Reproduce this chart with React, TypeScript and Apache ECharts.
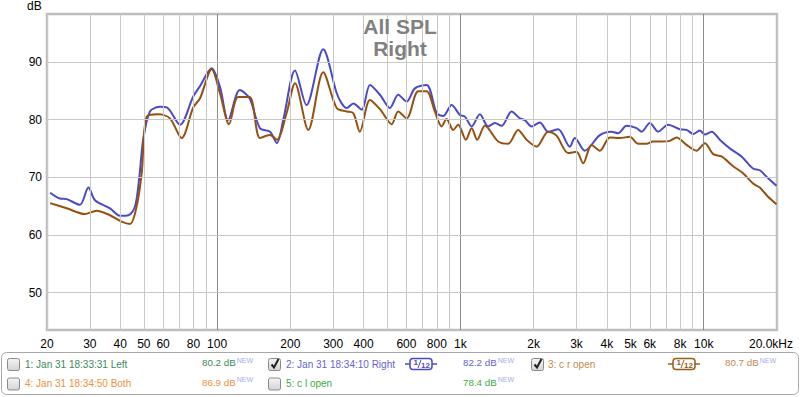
import React, { useEffect, useRef } from 'react';
import * as echarts from 'echarts';

// ---- data ----
const blueFreq = [20.6, 22.6, 24.1, 27.3, 29.6, 31.5, 36.3, 39.9, 43.2, 46.0, 47.9, 49.7, 53.0, 58.3, 62.1, 70.4, 79.8, 85.1, 95, 102.7, 111, 124, 136, 150, 165, 176, 187, 209, 233, 273, 310, 325, 341, 363, 393, 425, 467, 513, 555, 601, 650, 726, 799, 850, 920, 995, 1044, 1112, 1202, 1301, 1386, 1476, 1623, 1756, 1841, 1961, 2120, 2294, 2522, 2817, 2952, 3246, 3741, 4178, 4448, 4816, 5296, 5552, 6006, 6494, 7138, 7974, 8498, 9046, 9636, 10104, 10766, 11641, 12800, 14296, 15951, 16996, 18382, 19904];
const blueDb = [67.3, 66.3, 66.2, 65.2, 68.2, 66.0, 64.6, 63.3, 63.4, 64.9, 70.0, 76.5, 81.4, 82.2, 82.1, 79.1, 84.0, 85.8, 88.9, 85.7, 79.9, 85.1, 83.7, 78.5, 77.9, 75.9, 79.9, 88.5, 82.5, 92.2, 84.6, 82.8, 82.0, 82.8, 81.7, 86.0, 84.3, 82.0, 84.3, 83.1, 85.4, 86.0, 81.1, 80.6, 82.5, 80.8, 80.5, 78.8, 80.9, 78.8, 79.4, 78.9, 81.4, 80.2, 79.9, 78.8, 79.5, 77.9, 78.3, 75.3, 76.8, 74.6, 77.3, 77.9, 77.6, 78.9, 78.5, 77.9, 79.4, 77.9, 79.1, 78.3, 78.2, 77.5, 78.1, 77.4, 77.9, 76.5, 75.0, 73.6, 71.5, 71.2, 69.8, 68.5];

const brownFreq = [20.6, 24.1, 28.6, 32.0, 36.3, 40.5, 43.9, 46.7, 49.0, 51.4, 57.3, 64.0, 71.5, 79.8, 85.1, 95, 102.7, 112, 122, 136, 150, 165, 176, 193, 209, 237, 273, 310, 341, 363, 386, 425, 467, 522, 555, 601, 671, 726, 785, 837, 877, 934, 979, 1053, 1112, 1172, 1261, 1430, 1571, 1727, 1870, 2055, 2294, 2483, 2772, 3002, 3195, 3458, 3741, 4112, 4520, 4970, 5376, 5820, 6194, 6706, 7252, 7730, 8498, 9340, 10104, 10932, 11832, 13204, 14510, 15951, 16996, 18382, 19904];
const brownDb = [65.5, 64.6, 63.6, 64.2, 63.4, 62.3, 61.9, 64.9, 70.7, 80.5, 80.9, 80.2, 76.8, 82.1, 83.7, 88.7, 84.6, 79.2, 83.9, 83.9, 76.8, 77.3, 76.5, 81.1, 86.3, 78.2, 88.2, 82.0, 81.4, 81.1, 77.9, 83.4, 81.8, 79.2, 81.4, 80.2, 84.9, 84.9, 81.4, 78.8, 80.1, 78.2, 79.1, 76.5, 78.5, 76.5, 78.9, 76.2, 75.8, 78.2, 76.5, 75.3, 77.9, 77.2, 74.2, 74.4, 72.4, 75.6, 74.6, 76.9, 76.8, 77.0, 75.8, 75.8, 76.2, 76.2, 76.3, 76.9, 75.6, 74.6, 75.9, 74.0, 73.6, 71.9, 70.7, 68.9, 68.2, 66.6, 65.3];

const xGridFreqs = [20, 30, 40, 50, 60, 70, 80, 90, 100, 200, 300, 400, 500, 600, 700, 800, 900, 1000, 2000, 3000, 4000, 5000, 6000, 7000, 8000, 9000, 10000, 20000];
const xMajorFreqs = [100, 1000, 10000];
const xLabelFreqs = [20, 30, 40, 50, 60, 80, 100, 200, 300, 400, 600, 800, 1000, 2000, 3000, 4000, 5000, 6000, 8000, 10000, 20000];
const xLabelTexts = ['20', '30', '40', '50', '60', '80', '100', '200', '300', '400', '600', '800', '1k', '2k', '3k', '4k', '5k', '6k', '8k', '10k', '20.0kHz'];
const yTicks = [50, 60, 70, 80, 90];

const titleLines = ['All SPL', 'Right'];

const legendRows = [
  [
    { checked: false, name: '1: Jan 31 18:33:31 Left', value: '80.2 dB', color: '#3a8a5a', icon: false },
    { checked: true, name: '2: Jan 31 18:34:10 Right', value: '82.2 dB', color: '#6464d0', icon: true },
    { checked: true, name: '3: c r open', value: '80.7 dB', color: '#c4884c', icon: true },
  ],
  [
    { checked: false, name: '4: Jan 31 18:34:50 Both', value: '86.9 dB', color: '#ee9040', icon: false },
    { checked: false, name: '5: c l open', value: '78.4 dB', color: '#3cab3c', icon: false },
  ],
];

const FONT = '"Liberation Sans", Arial, sans-serif';

function buildLegend(): any[] {
  const els: any[] = [];
  els.push({
    type: 'rect', shape: { x: 1.5, y: 352.5, width: 797, height: 42, r: 5 },
    style: { fill: '#ffffff', stroke: '#a8a8a8', lineWidth: 1 }, z: 10,
  });
  const colX = [{ cb: 7, name: 25, val: 202 }, { cb: 268, name: 286, val: 463 }, { cb: 531, name: 548, val: 725 }];
  const iconX = [0, 405, 668];
  const rowY = [364, 383.5];
  legendRows.forEach((row, ri) => {
    row.forEach((it, ci) => {
      const y = rowY[ri];
      const cx = colX[ci];
      els.push({
        type: 'rect', shape: { x: cx.cb + 0.5, y: y - 5.5, width: 12, height: 12, r: 2 },
        style: {
          fill: new echarts.graphic.LinearGradient(0, 0, 0, 1, [{ offset: 0, color: '#f4f4f4' }, { offset: 1, color: '#d4d4d4' }]),
          stroke: '#8a8a8a', lineWidth: 1,
        }, z: 11,
      });
      if (it.checked) {
        els.push({
          type: 'polyline', shape: { points: [[cx.cb + 3.5, y + 0.5], [cx.cb + 6, y + 3.5], [cx.cb + 10.5, y - 5]] },
          style: { stroke: '#222', lineWidth: 2, fill: null }, z: 12,
        });
      }
      els.push({ type: 'text', x: cx.name, y, style: { text: it.name, fill: it.color, font: '10px ' + FONT, verticalAlign: 'middle' }, z: 12 });
      els.push({
        type: 'text', x: cx.val, y: y - 1.5,
        style: {
          text: '{v|' + it.value + '}{n|NEW}', verticalAlign: 'middle',
          rich: {
            v: { fill: it.color, fontSize: 9.8, fontFamily: FONT, lineHeight: 12, verticalAlign: 'middle' },
            n: { fill: '#a8acf0', fontSize: 7, fontFamily: FONT, lineHeight: 12, verticalAlign: 'top', padding: [0, 0, 0, 1] },
          },
        }, z: 12,
      });
      if (it.icon) {
        const ix = iconX[ci];
        const c = it.color === '#6464d0' ? '#4a4ac8' : '#9a5a1a';
        els.push({ type: 'line', shape: { x1: ix, y1: y, x2: ix + 5, y2: y }, style: { stroke: c, lineWidth: 1.5 }, z: 12 });
        els.push({ type: 'line', shape: { x1: ix + 27, y1: y, x2: ix + 32, y2: y }, style: { stroke: c, lineWidth: 1.5 }, z: 12 });
        els.push({ type: 'rect', shape: { x: ix + 5, y: y - 5.5, width: 22, height: 11, r: 3 }, style: { fill: '#fff', stroke: c, lineWidth: 1.5 }, z: 12 });
        els.push({ type: 'text', x: ix + 8.5, y: y - 2, style: { text: '1', fill: c, font: 'bold 8px ' + FONT, verticalAlign: 'middle' }, z: 13 });
        els.push({ type: 'line', shape: { x1: ix + 13, y1: y + 4, x2: ix + 16, y2: y - 4 }, style: { stroke: c, lineWidth: 1 }, z: 13 });
        els.push({ type: 'text', x: ix + 16, y: y + 1, style: { text: '12', fill: c, font: 'bold 8px ' + FONT, verticalAlign: 'middle' }, z: 13 });
      }
    });
  });
  return els;
}

export default function App() {
  const ref = useRef<HTMLDivElement>(null);
  useEffect(() => {
    if (!ref.current) return;
    const chart = echarts.init(ref.current, undefined, { renderer: 'svg' });

    const xMarks = xGridFreqs.map((f) => {
      const li = xLabelFreqs.indexOf(f);
      const major = xMajorFreqs.indexOf(f) >= 0;
      return {
        xAxis: f,
        lineStyle: { color: major ? '#8c8c8c' : '#c8c8c8', width: 1, type: 'solid' },
        label: li >= 0
          ? { show: true, position: 'start', formatter: xLabelTexts[li], color: '#000', fontSize: 12, fontFamily: FONT, distance: 8, offset: f === 20000 ? [-6, 0] : [0, 0] }
          : { show: false },
      };
    });
    const yMarks = yTicks.map((v) => ({
      yAxis: v,
      lineStyle: { color: '#c8c8c8', width: 1, type: 'solid' },
      label: { show: true, position: 'start', formatter: String(v), color: '#000', fontSize: 12, fontFamily: FONT, distance: 5 },
    }));

    chart.setOption({
      animation: false,
      grid: { left: 47, top: 14, right: 23, bottom: 67, show: true, borderColor: '#bdbdbd', borderWidth: 2.5, backgroundColor: '#fff' },
      xAxis: {
        type: 'log', logBase: 10, min: 20, max: 20000,
        axisLine: { show: false }, axisTick: { show: false }, axisLabel: { show: false }, splitLine: { show: false }, minorSplitLine: { show: false },
      },
      yAxis: {
        type: 'value', min: 43.5, max: 98.3,
        axisLine: { show: false }, axisTick: { show: false }, axisLabel: { show: false }, splitLine: { show: false },
      },
      series: [
        {
          type: 'line', data: [], z: 1, silent: true,
          markLine: { silent: true, symbol: ['none', 'none'], animation: false, data: [...xMarks, ...yMarks] },
        },
        {
          name: 'Right', type: 'line', z: 3, showSymbol: false, smooth: 0.3,
          data: blueFreq.map((f, i) => [f, blueDb[i]]),
          lineStyle: { color: '#4a4ac8', width: 2 }, itemStyle: { color: '#4a4ac8' },
        },
        {
          name: 'c r open', type: 'line', z: 4, showSymbol: false, smooth: 0.3,
          data: brownFreq.map((f, i) => [f, brownDb[i]]),
          lineStyle: { color: '#96500f', width: 2 }, itemStyle: { color: '#96500f' },
        },
      ],
      graphic: [
        { type: 'text', x: 27, y: 6, style: { text: 'dB', fill: '#000', font: '12px ' + FONT, verticalAlign: 'middle' }, z: 20 },
        ...titleLines.map((t, i) => ({
          type: 'text', x: 400, y: 26 + i * 22,
          style: { text: t, fill: '#808080', font: 'bold 21px ' + FONT, align: 'center', verticalAlign: 'middle' }, z: 20,
        })),
        ...buildLegend(),
      ],
    });
    return () => chart.dispose();
  }, []);
  return <div ref={ref} style={{ position: 'fixed', left: 0, top: 0, width: 800, height: 397, background: '#fff' }} />;
}
